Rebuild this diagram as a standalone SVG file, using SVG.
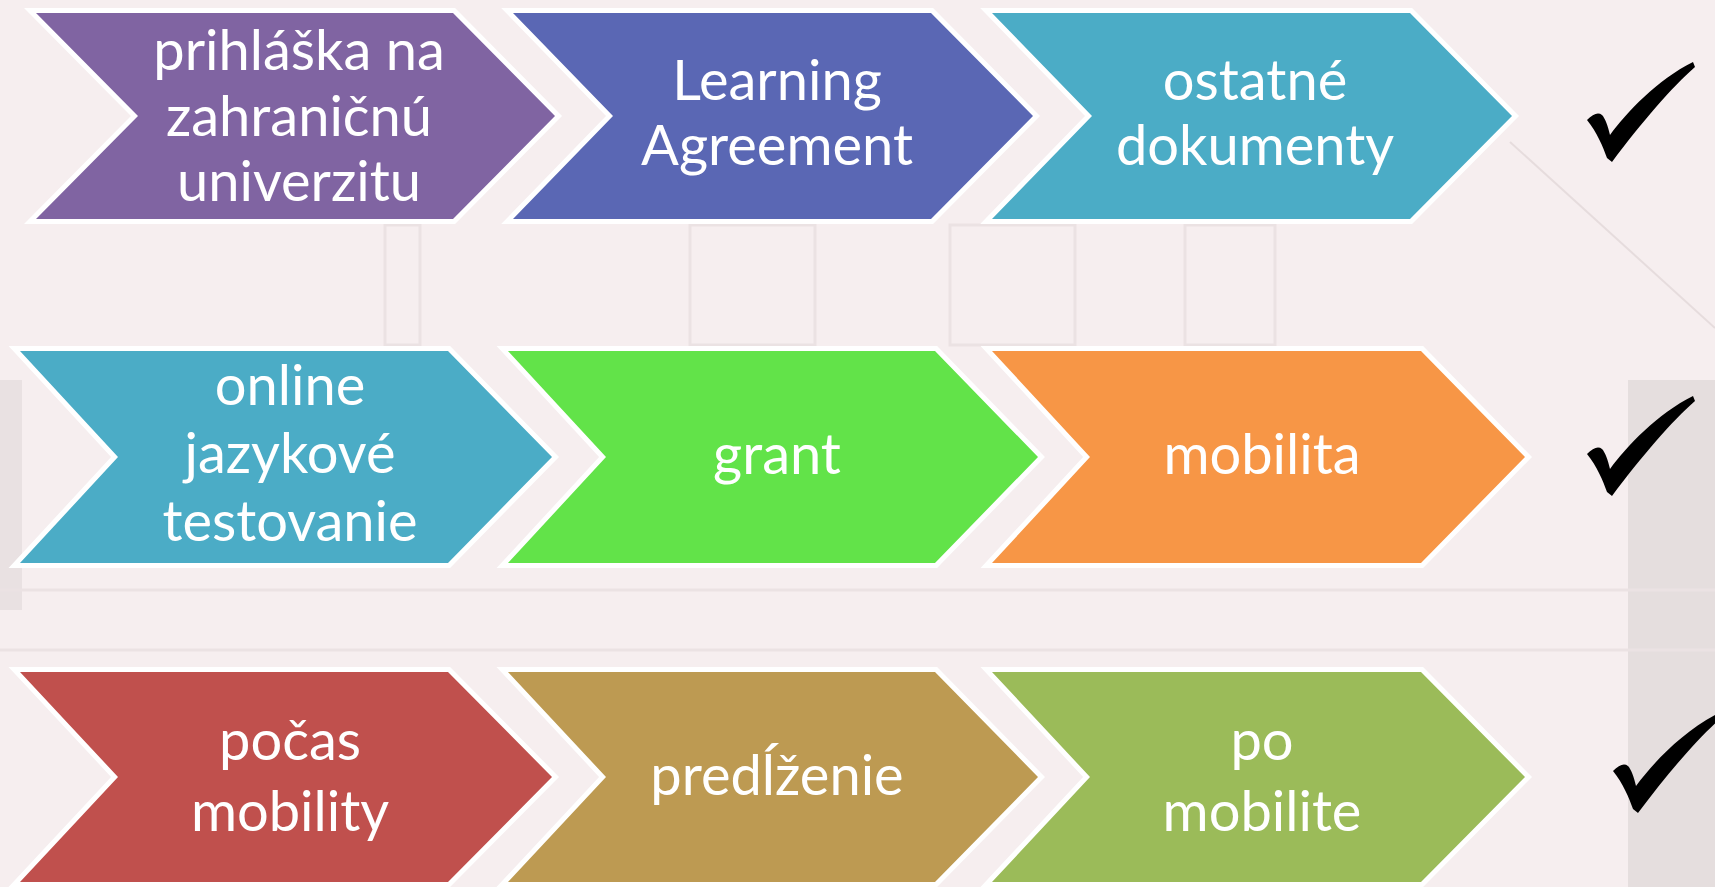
<svg xmlns="http://www.w3.org/2000/svg" width="1715" height="887" viewBox="0 0 1715 887">
<style>
.chev{stroke:#ffffff;stroke-width:10;stroke-linejoin:miter;paint-order:stroke}
.lbl{font-family:Lato,"Liberation Sans",sans-serif;font-size:56px;fill:#ffffff;text-anchor:middle}
.bgl{fill:none;stroke:#ebe2e3;stroke-width:3}
</style>
<defs>
<path id="check" d="M0,58 C6,52 11,50 15,53 C18,56 21,64 23,73 C40,50 70,18 106,0 L108,5 C85,25 55,60 25,100 L20,96 C16,85 10,70 0,58 Z" fill="#000000"/>
</defs>
<g id="background">
<rect x="0" y="0" width="1715" height="887" fill="#f6eeef"/>
<rect x="1628" y="380" width="87" height="507" fill="#e1d9da" opacity="0.8"/>
<path d="M1510,142 L1715,328" stroke="#e6dcdd" stroke-width="2"/>
<rect x="0" y="380" width="22" height="230" fill="#e6dddf" opacity="0.8"/>
<rect class="bgl" x="690" y="225" width="125" height="120"/>
<rect class="bgl" x="950" y="225" width="125" height="120"/>
<rect class="bgl" x="1185" y="225" width="90" height="120"/>
<rect class="bgl" x="385" y="225" width="35" height="120"/>
<path class="bgl" d="M0,650 L1715,650"/>
<path class="bgl" d="M0,590 L1715,590"/>
</g>
<g id="connectors"></g>
<g id="n1">
<polygon class="chev" fill="#8064a2" points="36,13 453,13 555,116 453,219 36,219 138,116"/>
<text class="lbl" x="299"><tspan x="299" y="70">prihláška na</tspan><tspan x="299" y="136">zahraničnú</tspan><tspan x="299" y="201">univerzitu</tspan></text>
</g>
<g id="n2">
<polygon class="chev" fill="#5a67b4" points="513,13 931,13 1033,116 931,219 513,219 613,116"/>
<text class="lbl" x="777"><tspan x="777" y="100">Learning</tspan><tspan x="777" y="165">Agreement</tspan></text>
</g>
<g id="n3">
<polygon class="chev" fill="#4bacc6" points="992,13 1410,13 1512,116 1410,219 992,219 1092,116"/>
<text class="lbl" x="1255"><tspan x="1255" y="100">ostatné</tspan><tspan x="1255" y="165">dokumenty</tspan></text>
</g>
<use id="check1" href="#check" x="1587" y="62"/>
<g id="n4">
<polygon class="chev" fill="#4bacc6" points="20,351 448,351 552,457 448,563 20,563 118,457"/>
<text class="lbl" x="290"><tspan x="290" y="405">online</tspan><tspan x="290" y="473">jazykové</tspan><tspan x="290" y="541">testovanie</tspan></text>
</g>
<g id="n5">
<polygon class="chev" fill="#62e349" points="508,351 935,351 1038,457 935,563 508,563 606,457"/>
<text class="lbl" x="777" y="474">grant</text>
</g>
<g id="n6">
<polygon class="chev" fill="#f79646" points="992,351 1421,351 1525,457 1421,563 992,563 1090,457"/>
<text class="lbl" x="1262" y="474">mobilita</text>
</g>
<use id="check2" href="#check" x="1587" y="396"/>
<g id="n7">
<polygon class="chev" fill="#c0504d" points="20,672 448,672 552,777 448,882 20,882 118,777"/>
<text class="lbl" x="290"><tspan x="290" y="760">počas</tspan><tspan x="290" y="831">mobility</tspan></text>
</g>
<g id="n8">
<polygon class="chev" fill="#bd9a52" points="508,672 935,672 1038,777 935,882 508,882 606,777"/>
<text class="lbl" x="777" y="795">predĺženie</text>
</g>
<g id="n9">
<polygon class="chev" fill="#9bbb59" points="992,672 1421,672 1525,777 1421,882 992,882 1090,777"/>
<text class="lbl" x="1262"><tspan x="1262" y="760">po</tspan><tspan x="1262" y="831">mobilite</tspan></text>
</g>
<use id="check3" href="#check" x="1613" y="713"/>
</svg>
